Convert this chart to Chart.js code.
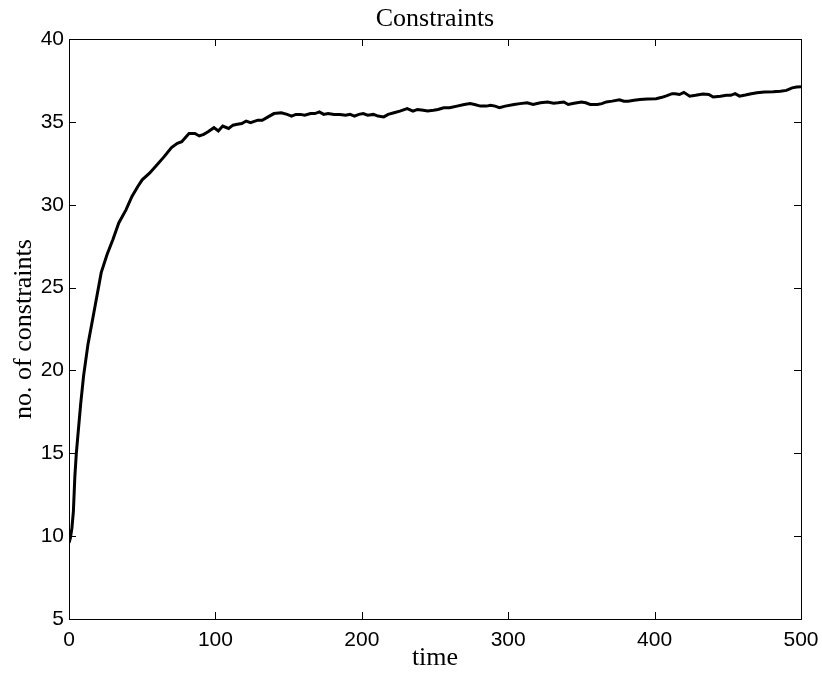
<!DOCTYPE html>
<html>
<head>
<meta charset="utf-8">
<script src="https://cdn.jsdelivr.net/npm/chart.js@4.4.0/dist/chart.umd.min.js"></script>
<style>
  html, body { margin: 0; padding: 0; background: #fff; }
  #wrap { width: 822px; height: 674px; }
</style>
</head>
<body>
<div id="wrap"><canvas id="chart" width="822" height="674"></canvas></div>
<script>
// Data
const times = [0, 1, 2, 3, 4, 5, 6, 8, 10, 13, 17, 22, 26, 30, 34, 39, 43, 47, 50, 55,
  60, 65, 70, 74, 77, 80, 82, 86, 89, 92, 95, 99, 102, 105, 109, 112, 115, 118, 121, 124,
  129, 132, 136, 140, 145, 149, 152, 155, 158, 161, 165, 168, 171, 174, 177, 181, 185, 189, 192, 195,
  198, 201, 204, 208, 211, 215, 218, 222, 226, 231, 235, 238, 242, 245, 249, 252, 256, 260, 265, 270,
  274, 277, 281, 285, 288, 291, 294, 298, 304, 308, 313, 317, 322, 327, 331, 334, 338, 341, 345, 350,
  353, 356, 361, 364, 367, 371, 376, 379, 382, 386, 390, 395, 401, 405, 408, 412, 414, 417, 420, 424,
  428, 433, 437, 440, 445, 449, 452, 455, 458, 462, 466, 470, 475, 481, 486, 490, 494, 497, 500];
const constraints = [9.6, 9.9, 10.5, 11.5, 13.6, 15.0, 16.0, 18.0, 19.7, 21.6, 23.5, 25.9, 27.0, 27.9, 28.9, 29.7, 30.5, 31.1, 31.5, 31.9,
  32.4, 32.9, 33.45, 33.7, 33.8, 34.1, 34.3, 34.3, 34.15, 34.25, 34.4, 34.65, 34.45, 34.75, 34.6, 34.8, 34.85, 34.9, 35.05, 34.95,
  35.1, 35.1, 35.3, 35.5, 35.55, 35.45, 35.35, 35.45, 35.45, 35.4, 35.5, 35.5, 35.6, 35.45, 35.5, 35.45, 35.45, 35.4, 35.45, 35.35,
  35.45, 35.5, 35.4, 35.45, 35.35, 35.3, 35.45, 35.55, 35.65, 35.8, 35.65, 35.75, 35.7, 35.65, 35.7, 35.75, 35.85, 35.85, 35.95, 36.05,
  36.1, 36.05, 35.95, 35.95, 36.0, 35.95, 35.85, 35.95, 36.05, 36.1, 36.15, 36.05, 36.15, 36.2, 36.13, 36.15, 36.2, 36.05, 36.12, 36.2,
  36.15, 36.05, 36.05, 36.1, 36.2, 36.25, 36.33, 36.25, 36.25, 36.3, 36.35, 36.38, 36.4, 36.48, 36.57, 36.7, 36.7, 36.65, 36.78, 36.55,
  36.6, 36.68, 36.65, 36.5, 36.55, 36.6, 36.6, 36.7, 36.55, 36.62, 36.7, 36.76, 36.8, 36.82, 36.85, 36.9, 37.05, 37.1, 37.12];

const xTicks = [0, 100, 200, 300, 400, 500];
const yTicks = [5, 10, 15, 20, 25, 30, 35, 40];

const chartTitle = 'Constraints';
const xLabel = 'time';
const yLabel = 'no. of constraints';

const serif = '"Liberation Serif", "DejaVu Serif", serif';
const sans = '"Liberation Sans", Arial, sans-serif';

// box + inward ticks on all four sides, plus the title
const frame = {
    id: 'frame',
    afterDraw(chart) {
        const { ctx, chartArea: a, scales } = chart;
        const len = 7;
        ctx.save();
        ctx.strokeStyle = '#000';
        ctx.lineWidth = 1;
        ctx.strokeRect(a.left + 0.5, a.top + 0.5, a.right - a.left, a.bottom - a.top);
        ctx.beginPath();
        xTicks.forEach(v => {
            const px = Math.round(scales.x.getPixelForValue(v)) + 0.5;
            ctx.moveTo(px, a.bottom); ctx.lineTo(px, a.bottom - len);
            ctx.moveTo(px, a.top); ctx.lineTo(px, a.top + len);
        });
        yTicks.forEach(v => {
            const py = Math.round(scales.y.getPixelForValue(v)) + 0.5;
            ctx.moveTo(a.left, py); ctx.lineTo(a.left + len, py);
            ctx.moveTo(a.right, py); ctx.lineTo(a.right - len, py);
        });
        ctx.stroke();

        ctx.fillStyle = '#000';
        ctx.font = '26px ' + serif;
        ctx.textAlign = 'center';
        ctx.textBaseline = 'alphabetic';
        ctx.fillText(chartTitle, (a.left + a.right) / 2, 26);
        ctx.restore();
    }
};

const ctx = document.getElementById('chart').getContext('2d');
new Chart(ctx, {
    type: 'line',
    data: {
        datasets: [{
            data: times.map((t, i) => ({ x: t, y: constraints[i] })),
            borderColor: '#000',
            borderWidth: 3,
            pointRadius: 0,
            tension: 0,
            fill: false
        }]
    },
    options: {
        responsive: false,
        animation: false,
        layout: { padding: { top: 39, right: 21, left: 0, bottom: 0 } },
        plugins: { legend: { display: false }, tooltip: { enabled: false } },
        scales: {
            x: {
                type: 'linear',
                min: 0, max: 500,
                afterFit: (s) => { s.height = 55; s.paddingLeft = 0; s.paddingRight = 0; },
                afterBuildTicks: (s) => { s.ticks = xTicks.map(v => ({ value: v })); },
                grid: { display: false, drawTicks: false },
                border: { display: false },
                ticks: { color: '#000', padding: 9, maxRotation: 0, font: { family: sans, size: 21 } },
                title: { display: true, text: xLabel, color: '#000', padding: { top: 0, bottom: 0 }, font: { family: serif, size: 26 } }
            },
            y: {
                min: 5, max: 40,
                afterFit: (s) => { s.width = 69; s.paddingTop = 0; s.paddingBottom = 0; },
                afterBuildTicks: (s) => { s.ticks = yTicks.map(v => ({ value: v })); },
                grid: { display: false, drawTicks: false },
                border: { display: false },
                ticks: { color: '#000', padding: 5, font: { family: sans, size: 21 } },
                title: { display: true, text: yLabel, color: '#000', padding: { top: 9, bottom: 0 }, font: { family: serif, size: 26 } }
            }
        }
    },
    plugins: [frame]
});
</script>
</body>
</html>
